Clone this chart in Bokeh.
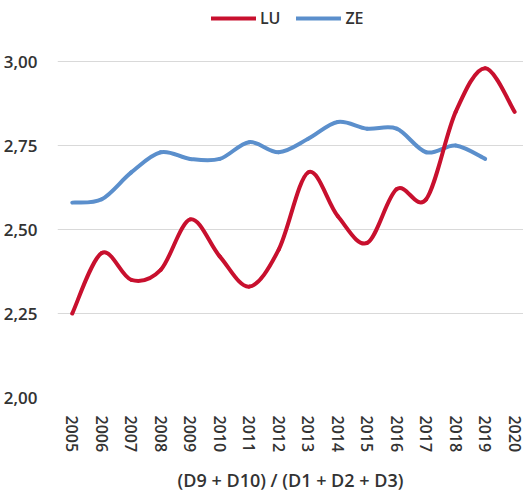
from bokeh.plotting import figure
from bokeh.models import (Legend, LegendItem, FixedTicker, CustomJSTickFormatter,
                          ColumnDataSource, Range1d)
from bokeh.embed import file_html
from bokeh.resources import INLINE

years = list(range(2005, 2021))
lu = [2.25, 2.43, 2.35, 2.38, 2.53, 2.42, 2.33, 2.44, 2.67, 2.54, 2.46, 2.62, 2.59, 2.85, 2.98, 2.85]
ze_years = list(range(2005, 2020))
ze = [2.58, 2.59, 2.67, 2.73, 2.71, 2.71, 2.76, 2.73, 2.77, 2.82, 2.80, 2.80, 2.73, 2.75, 2.71]
y_ticks = [2.00, 2.25, 2.50, 2.75, 3.00]
axis_title = "(D9 + D10) / (D1 + D2 + D3)"

RED = "#C8102E"
BLUE = "#5B8FCC"
FONT = "Open Sans SemiBold, Open Sans"
TXT = "#333333"

# plot area spans 2,00 .. 3,00 over 336 px; 54 px of headroom above for the legend
Y_TOP = 3.0 + 0.25 * 54 / 84


def smooth_segments(xs, ys, k=1.0 / 6.0):
    n = len(xs)
    d = dict(x0=[], y0=[], x1=[], y1=[], cx0=[], cy0=[], cx1=[], cy1=[])
    for i in range(n - 1):
        p0 = (xs[max(i - 1, 0)], ys[max(i - 1, 0)])
        p1 = (xs[i], ys[i])
        p2 = (xs[i + 1], ys[i + 1])
        p3 = (xs[min(i + 2, n - 1)], ys[min(i + 2, n - 1)])
        d["x0"].append(p1[0]); d["y0"].append(p1[1])
        d["x1"].append(p2[0]); d["y1"].append(p2[1])
        d["cx0"].append(p1[0] + (p2[0] - p0[0]) * k)
        d["cy0"].append(p1[1] + (p2[1] - p0[1]) * k)
        d["cx1"].append(p2[0] - (p3[0] - p1[0]) * k)
        d["cy1"].append(p2[1] - (p3[1] - p1[1]) * k)
    return ColumnDataSource(d)


p = figure(frame_width=466, frame_height=390, output_backend="svg", toolbar_location=None,
           x_range=Range1d(2004.5, 2020.3), y_range=Range1d(2.0, Y_TOP),
           min_border_left=50, min_border_right=0, min_border_top=7,
           min_border_bottom=10)
p.outline_line_color = None
p.background_fill_color = "white"

r_ze = p.bezier(x0="x0", y0="y0", x1="x1", y1="y1", cx0="cx0", cy0="cy0",
                cx1="cx1", cy1="cy1", source=smooth_segments(ze_years, ze),
                line_color=BLUE, line_width=4, line_cap="round")
r_lu = p.bezier(x0="x0", y0="y0", x1="x1", y1="y1", cx0="cx0", cy0="cy0",
                cx1="cx1", cy1="cy1", source=smooth_segments(years, lu),
                line_color=RED, line_width=4, line_cap="round")

legend = Legend(items=[LegendItem(label="LU", renderers=[r_lu], index=0),
                       LegendItem(label="ZE", renderers=[r_ze], index=0)],
                orientation="horizontal", location=(154, 368),
                glyph_width=45, glyph_height=20, label_standoff=4, spacing=16,
                padding=0, margin=0, border_line_color=None,
                background_fill_alpha=0, label_text_font=FONT,
                label_text_font_size="16px", label_text_color=TXT,
                label_height=20)
p.add_layout(legend, "center")

p.xgrid.grid_line_color = None
p.ygrid.grid_line_color = "#d9d9d9"
p.ygrid.grid_line_width = 1

p.yaxis.ticker = FixedTicker(ticks=y_ticks)
p.yaxis.formatter = CustomJSTickFormatter(code="return tick.toFixed(2).replace('.', ',');")
p.xaxis.ticker = FixedTicker(ticks=years)
p.xaxis.major_label_orientation = "vertical"

for ax in (p.xaxis[0], p.yaxis[0]):
    ax.axis_line_color = None
    ax.major_tick_line_color = None
    ax.minor_tick_line_color = None
    ax.major_label_text_font = FONT
    ax.major_label_text_color = TXT

p.yaxis.major_label_text_font_size = "17px"
p.yaxis.major_label_standoff = 14
p.xaxis.major_label_text_font_size = "16px"
p.xaxis.major_label_standoff = 12

p.xaxis.axis_label = axis_title
p.xaxis.axis_label_text_font = FONT
p.xaxis.axis_label_text_font_style = "normal"
p.xaxis.axis_label_text_font_size = "18px"
p.xaxis.axis_label_text_color = TXT
p.xaxis.axis_label_standoff = 13

open("out.html", "w").write(file_html(p, INLINE))
